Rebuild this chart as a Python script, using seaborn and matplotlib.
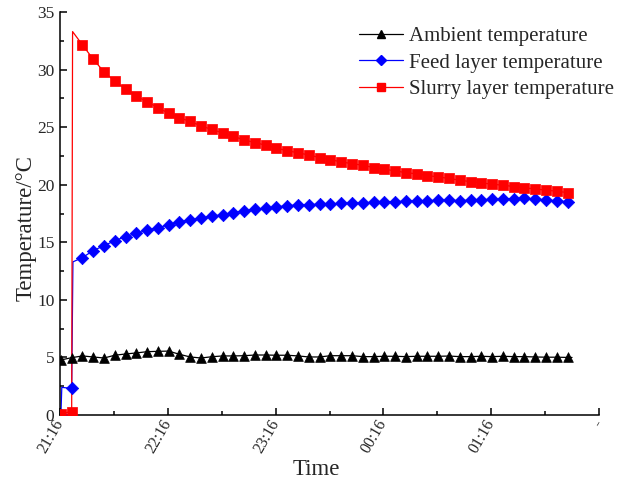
import numpy as np
import pandas as pd
import matplotlib
matplotlib.use('Agg')
import matplotlib.pyplot as plt
from matplotlib.lines import Line2D
from matplotlib.ticker import MultipleLocator
import seaborn as sns

# sampled readings (every 6 min, starting 21:16)
ambient_temp = [4.78, 4.98, 5.13, 5.04, 4.95, 5.19, 5.30, 5.39, 5.50, 5.53, 5.55, 5.27,
                5.04, 4.95, 5.06, 5.13, 5.13, 5.15, 5.21, 5.21, 5.19, 5.19, 5.13, 5.04,
                5.04, 5.15, 5.15, 5.15, 5.07, 5.07, 5.10, 5.10, 5.07, 5.10, 5.10, 5.10,
                5.12, 5.07, 5.07, 5.10, 5.07, 5.10, 5.07, 5.07, 5.04, 5.02, 5.02, 5.00]
feed_temp = [0.0, 2.31, 13.67, 14.28, 14.71, 15.14, 15.49, 15.78, 16.04, 16.27, 16.51, 16.77,
             16.94, 17.09, 17.26, 17.40, 17.58, 17.72, 17.87, 17.96, 18.07, 18.18, 18.24, 18.27,
             18.31, 18.33, 18.39, 18.42, 18.42, 18.48, 18.51, 18.53, 18.57, 18.59, 18.62, 18.65,
             18.66, 18.62, 18.66, 18.70, 18.73, 18.76, 18.80, 18.82, 18.76, 18.68, 18.60, 18.52]
slurry_temp = [0.10, 0.30, 32.14, 30.90, 29.80, 29.00, 28.30, 27.70, 27.20, 26.70, 26.20, 25.80,
               25.50, 25.10, 24.80, 24.50, 24.20, 23.89, 23.66, 23.43, 23.17, 22.96, 22.76, 22.59,
               22.35, 22.18, 21.98, 21.83, 21.69, 21.49, 21.35, 21.20, 21.05, 20.94, 20.79, 20.68,
               20.54, 20.39, 20.27, 20.16, 20.04, 19.96, 19.84, 19.72, 19.64, 19.52, 19.44, 19.31]
sample_min = np.arange(len(ambient_temp)) * 6 + 0.5

# extra logged points between markers (transients and last reading)
ambient_extra_t, ambient_extra = [285.0], [5.00]
feed_extra_t, feed_extra = [1.0, 7.2, 285.0], [2.40, 13.30, 18.45]
slurry_extra_t, slurry_extra = [7.0, 285.0], [33.30, 19.26]

tick_min = [0, 60, 120, 180, 240, 300]
tick_labels = ['21:16', '22:16', '23:16', '00:16', '01:16', '-']

series = [
    ('Ambient temperature', ambient_temp, ambient_extra_t, ambient_extra, 'black', '^', 7),
    ('Feed layer temperature', feed_temp, feed_extra_t, feed_extra, '#0000FF', 'D', 6.3),
    ('Slurry layer temperature', slurry_temp, slurry_extra_t, slurry_extra, '#FF0000', 's', 6.5),
]

sns.set_style('ticks')
plt.rcParams['font.family'] = ['Liberation Serif', 'DejaVu Serif']

fig = plt.figure(figsize=(6.27, 4.82), dpi=100)
ax = fig.add_axes([60 / 627, 1 - 415 / 482, 539 / 627, 403 / 482])

handles = []
for name, vals, ex_t, ex_v, color, mk, ms in series:
    line_df = pd.DataFrame({'t': list(sample_min) + ex_t, 'T': list(vals) + ex_v}).sort_values('t')
    sns.lineplot(data=line_df, x='t', y='T', ax=ax, color=color, lw=0.9,
                 estimator=None, sort=True)
    mk_df = pd.DataFrame({'t': sample_min, 'T': vals})
    sns.scatterplot(data=mk_df, x='t', y='T', ax=ax, color=color, marker=mk,
                    s=ms ** 2, edgecolor=color, linewidth=0.5, zorder=3)
    handles.append(Line2D([], [], color=color, lw=0.9, marker=mk, markersize=ms * 0.85,
                          markeredgecolor=color, label=name))

ax.set_xlim(0, 300)
ax.set_ylim(0, 35)
ax.set_xticks(tick_min)
ax.set_xticklabels(tick_labels, rotation=60, ha='right', va='center', rotation_mode='anchor')
ax.xaxis.set_minor_locator(MultipleLocator(30))
ax.yaxis.set_major_locator(MultipleLocator(5))
ax.yaxis.set_minor_locator(MultipleLocator(2.5))
ax.tick_params(which='both', direction='in', width=1.1, color='black')
ax.tick_params(which='major', length=5)
ax.tick_params(which='minor', length=3)
ax.tick_params(axis='x', labelsize=11.5, pad=4)
ax.tick_params(axis='y', labelsize=12.5, pad=4)

sns.despine(ax=ax)
for side in ['left', 'bottom']:
    ax.spines[side].set_linewidth(1.1)
    ax.spines[side].set_color('black')

ax.set_xlabel('Time', fontsize=16.5)
ax.xaxis.set_label_coords(0.475, -0.136)
ax.xaxis.label.set_va('center')
ax.set_ylabel('Temperature/°C', fontsize=16.5)
ax.yaxis.set_label_coords(-0.062, 0.464)
ax.yaxis.label.set_va('center')

fig.legend(handles=handles, loc='upper left', bbox_to_anchor=(0.559, 0.962),
           frameon=False, fontsize=15, handlelength=2.1, handletextpad=0.3,
           labelspacing=0.33, borderaxespad=0)

fig.savefig('out.png', dpi=100)
